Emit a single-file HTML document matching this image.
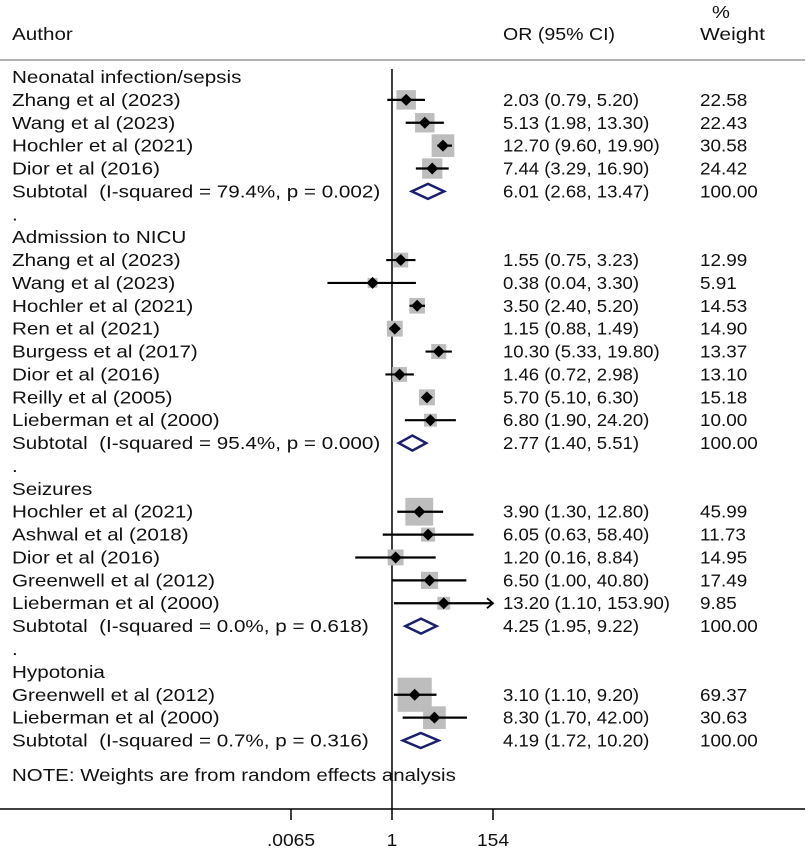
<!DOCTYPE html>
<html><head><meta charset="utf-8"><style>
html,body{margin:0;padding:0;background:#fff}
svg text{font-family:"Liberation Sans",Arial,sans-serif;font-size:17.5px;fill:#111;white-space:pre}
</style></head><body>
<svg id="plot" width="809" height="849" xmlns="http://www.w3.org/2000/svg" xml:space="preserve">
<line x1="0" y1="60" x2="805" y2="60" stroke="#999" stroke-width="1.5"/>
<text transform="translate(12,40) scale(1.18,1)">Author</text>
<text transform="translate(503,40) scale(1.12,1)">OR (95% CI)</text>
<text transform="translate(712,18) scale(1.15,1)">%</text>
<text transform="translate(700,40) scale(1.2,1)">Weight</text>
<g id="rows"></g>
</svg>
<script>
const labels = ["Neonatal infection/sepsis","Zhang et al (2023)","Wang et al (2023)","Hochler et al (2021)","Dior et al (2016)","Subtotal  (I-squared = 79.4%, p = 0.002)",".",
"Admission to NICU","Zhang et al (2023)","Wang et al (2023)","Hochler et al (2021)","Ren et al (2021)","Burgess et al (2017)","Dior et al (2016)","Reilly et al (2005)","Lieberman et al (2000)","Subtotal  (I-squared = 95.4%, p = 0.000)",".",
"Seizures","Hochler et al (2021)","Ashwal et al (2018)","Dior et al (2016)","Greenwell et al (2012)","Lieberman et al (2000)","Subtotal  (I-squared = 0.0%, p = 0.618)",".",
"Hypotonia","Greenwell et al (2012)","Lieberman et al (2000)","Subtotal  (I-squared = 0.7%, p = 0.316)"];
const types = ["h","s","s","s","s","t","d","h","s","s","s","s","s","s","s","s","t","d","h","s","s","s","s","s","t","d","h","s","s","t"];
const ors =   [null,2.03,5.13,12.70,7.44,6.01,null,null,1.55,0.38,3.50,1.15,10.30,1.46,5.70,6.80,2.77,null,null,3.90,6.05,1.20,6.50,13.20,4.25,null,null,3.10,8.30,4.19];
const lows =  [null,0.79,1.98,9.60,3.29,2.68,null,null,0.75,0.04,2.40,0.88,5.33,0.72,5.10,1.90,1.40,null,null,1.30,0.63,0.16,1.00,1.10,1.95,null,null,1.10,1.70,1.72];
const highs = [null,5.20,13.30,19.90,16.90,13.47,null,null,3.23,3.30,5.20,1.49,19.80,2.98,6.30,24.20,5.51,null,null,12.80,58.40,8.84,40.80,153.90,9.22,null,null,9.20,42.00,10.20];
const weights=[null,22.58,22.43,30.58,24.42,100.00,null,null,12.99,5.91,14.53,14.90,13.37,13.10,15.18,10.00,100.00,null,null,45.99,11.73,14.95,17.49,9.85,100.00,null,null,69.37,30.63,100.00];
const tickVals = [0.0065, 1, 154];
const tickLabels = [".0065","1","154"];

const NS="http://www.w3.org/2000/svg";
const g=document.getElementById('rows');
const xMin=0.0065, xMax=154, pxMin=291, pxMax=493;
function xs(v){return pxMin+(Math.log(v)-Math.log(xMin))/(Math.log(xMax)-Math.log(xMin))*(pxMax-pxMin);}
function ys(i){return 77+i*22.88;}
function el(tag,attrs,parent){const e=document.createElementNS(NS,tag);for(const k in attrs)e.setAttribute(k,attrs[k]);(parent||g).appendChild(e);return e;}
function txt(x,y,s,name,sx,anchor){const t=el('text',{transform:'translate('+x+','+(y+6)+') scale('+sx+',1)'});
if(anchor)t.setAttribute('text-anchor',anchor);
t.textContent=s;


return t;}
function f2(v){return v.toFixed(2);}

const nl=el('line',{x1:xs(1),y1:69,x2:xs(1),y2:809,stroke:'#000','stroke-width':1.5});



labels.forEach((lab,i)=>{
  const y=ys(i), t=types[i];
  txt(12,y,lab,t==='h'?'group-header':t==='t'?'subtotal-label':t==='d'?'spacer-dot':'study-label',1.18);
  if(t==='s'||t==='t'){
    txt(503,y,f2(ors[i])+" ("+f2(lows[i])+", "+f2(highs[i])+")",'or-ci-value',1.06);
    txt(700,y,f2(weights[i]),'weight-value',1.08);
  }
  if(t==='s'){
    const side=4.1*Math.sqrt(weights[i]);
    const cx=xs(ors[i]);
    const b=el('rect',{x:cx-side/2,y:y-side/2,width:side,height:side,fill:'#bdbdbd'});
    
    
    const lo=Math.max(lows[i],xMin), hi=Math.min(highs[i],xMax);
    const x2=hi>=xMax*0.99?pxMax-1:xs(hi);
    const l=el('line',{x1:xs(lo),y1:y,x2:x2,y2:y,stroke:'#000','stroke-width':2.2});
    
    
    if(hi>=xMax*0.99){
      const a=el('polyline',{points:(pxMax-6)+","+(y-5)+" "+pxMax+","+y+" "+(pxMax-6)+","+(y+5),fill:'none',stroke:'#000','stroke-width':1.8});
      
      
    }
    const d=6;
    const p=el('polygon',{points:(cx-d)+","+y+" "+cx+","+(y-d)+" "+(cx+d)+","+y+" "+cx+","+(y+d),fill:'#000'});
    
    
  }
  if(t==='t'){
    const a=xs(lows[i]),c=xs(ors[i]),b=xs(highs[i]);
    const p=el('polygon',{points:a+","+y+" "+c+","+(y-7.5)+" "+b+","+y+" "+c+","+(y+7.5),fill:'#fff',stroke:'#1a1f6e','stroke-width':2.5});
    
    
  }
});
txt(12,775,"NOTE: Weights are from random effects analysis",'footnote',1.17);

const ax=el('line',{x1:0,y1:809,x2:805,y2:809,stroke:'#000','stroke-width':1.5});


tickVals.forEach((v,k)=>{
  const x=xs(v);
  const tk=el('line',{x1:x,y1:809,x2:x,y2:820,stroke:'#000','stroke-width':1.5});
  
  
  txt(x,840,tickLabels[k],'x-tick-label',1.1,'middle');
});
</script>
</body></html>
